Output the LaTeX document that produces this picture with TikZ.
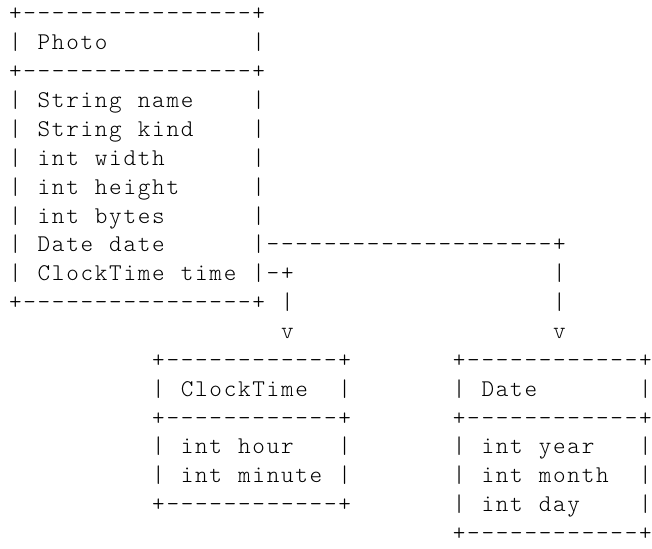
\documentclass[tikz,border=0pt]{standalone}
\usepackage{fontspec}
\newfontfamily\ascfont{lmmonolt10-regular.otf}
\newlength\asccw
\setlength\asccw{14.32pt}
\def\ascspread#1{\ascspreadi#1\relax}
\def\ascspreadi#1{\ifx\relax#1\else\makebox[\asccw][c]{#1}\expandafter\ascspreadi\fi}
\tikzset{
  asc/.style={anchor=base west, inner sep=0pt, outer sep=0pt, text=black,
    font=\ascfont\fontsize{24}{24}\selectfont}
}
% \ascat{name}{col}{row}{text}
\newcommand\ascat[4]{\node[asc] (#1) at ({8.14+14.32*#2},{527-28.86*#3}) {\ascspread{#4}};}
\begin{document}
\begin{tikzpicture}[x=1pt,y=1pt]
\fill[white] (0,0) rectangle (652,548);
\useasboundingbox (0,0) rectangle (652,548);
% Photo box
\ascat{pTop}{0}{0}{+----------------+}
\ascat{pL1}{0}{1}{|}\ascat{pT}{2}{1}{Photo}\ascat{pR1}{17}{1}{|}
\ascat{pMid}{0}{2}{+----------------+}
\ascat{pL3}{0}{3}{|}\ascat{f1a}{2}{3}{String}\ascat{f1b}{9}{3}{name}\ascat{pR3}{17}{3}{|}
\ascat{pL4}{0}{4}{|}\ascat{f2a}{2}{4}{String}\ascat{f2b}{9}{4}{kind}\ascat{pR4}{17}{4}{|}
\ascat{pL5}{0}{5}{|}\ascat{f3a}{2}{5}{int}\ascat{f3b}{6}{5}{width}\ascat{pR5}{17}{5}{|}
\ascat{pL6}{0}{6}{|}\ascat{f4a}{2}{6}{int}\ascat{f4b}{6}{6}{height}\ascat{pR6}{17}{6}{|}
\ascat{pL7}{0}{7}{|}\ascat{f5a}{2}{7}{int}\ascat{f5b}{6}{7}{bytes}\ascat{pR7}{17}{7}{|}
\ascat{pL8}{0}{8}{|}\ascat{f6a}{2}{8}{Date}\ascat{f6b}{7}{8}{date}\ascat{dLine}{17}{8}{|--------------------+}
\ascat{pL9}{0}{9}{|}\ascat{f7a}{2}{9}{ClockTime}\ascat{f7b}{12}{9}{time}\ascat{cLine}{17}{9}{|-+}\ascat{dV1}{38}{9}{|}
\ascat{pBot}{0}{10}{+----------------+}\ascat{cV1}{19}{10}{|}\ascat{dV2}{38}{10}{|}
\ascat{cArr}{19}{11}{v}\ascat{dArr}{38}{11}{v}
% ClockTime box
\ascat{cTop}{10}{12}{+------------+}
\ascat{cL13}{10}{13}{|}\ascat{cT}{12}{13}{ClockTime}\ascat{cR13}{23}{13}{|}
\ascat{cMid}{10}{14}{+------------+}
\ascat{cL15}{10}{15}{|}\ascat{g1a}{12}{15}{int}\ascat{g1b}{16}{15}{hour}\ascat{cR15}{23}{15}{|}
\ascat{cL16}{10}{16}{|}\ascat{g2a}{12}{16}{int}\ascat{g2b}{16}{16}{minute}\ascat{cR16}{23}{16}{|}
\ascat{cBot}{10}{17}{+------------+}
% Date box
\ascat{dTop}{31}{12}{+------------+}
\ascat{dL13}{31}{13}{|}\ascat{dT}{33}{13}{Date}\ascat{dR13}{44}{13}{|}
\ascat{dMid}{31}{14}{+------------+}
\ascat{dL15}{31}{15}{|}\ascat{h1a}{33}{15}{int}\ascat{h1b}{37}{15}{year}\ascat{dR15}{44}{15}{|}
\ascat{dL16}{31}{16}{|}\ascat{h2a}{33}{16}{int}\ascat{h2b}{37}{16}{month}\ascat{dR16}{44}{16}{|}
\ascat{dL17}{31}{17}{|}\ascat{h3a}{33}{17}{int}\ascat{h3b}{37}{17}{day}\ascat{dR17}{44}{17}{|}
\ascat{dBot}{31}{18}{+------------+}
\end{tikzpicture}
\end{document}
